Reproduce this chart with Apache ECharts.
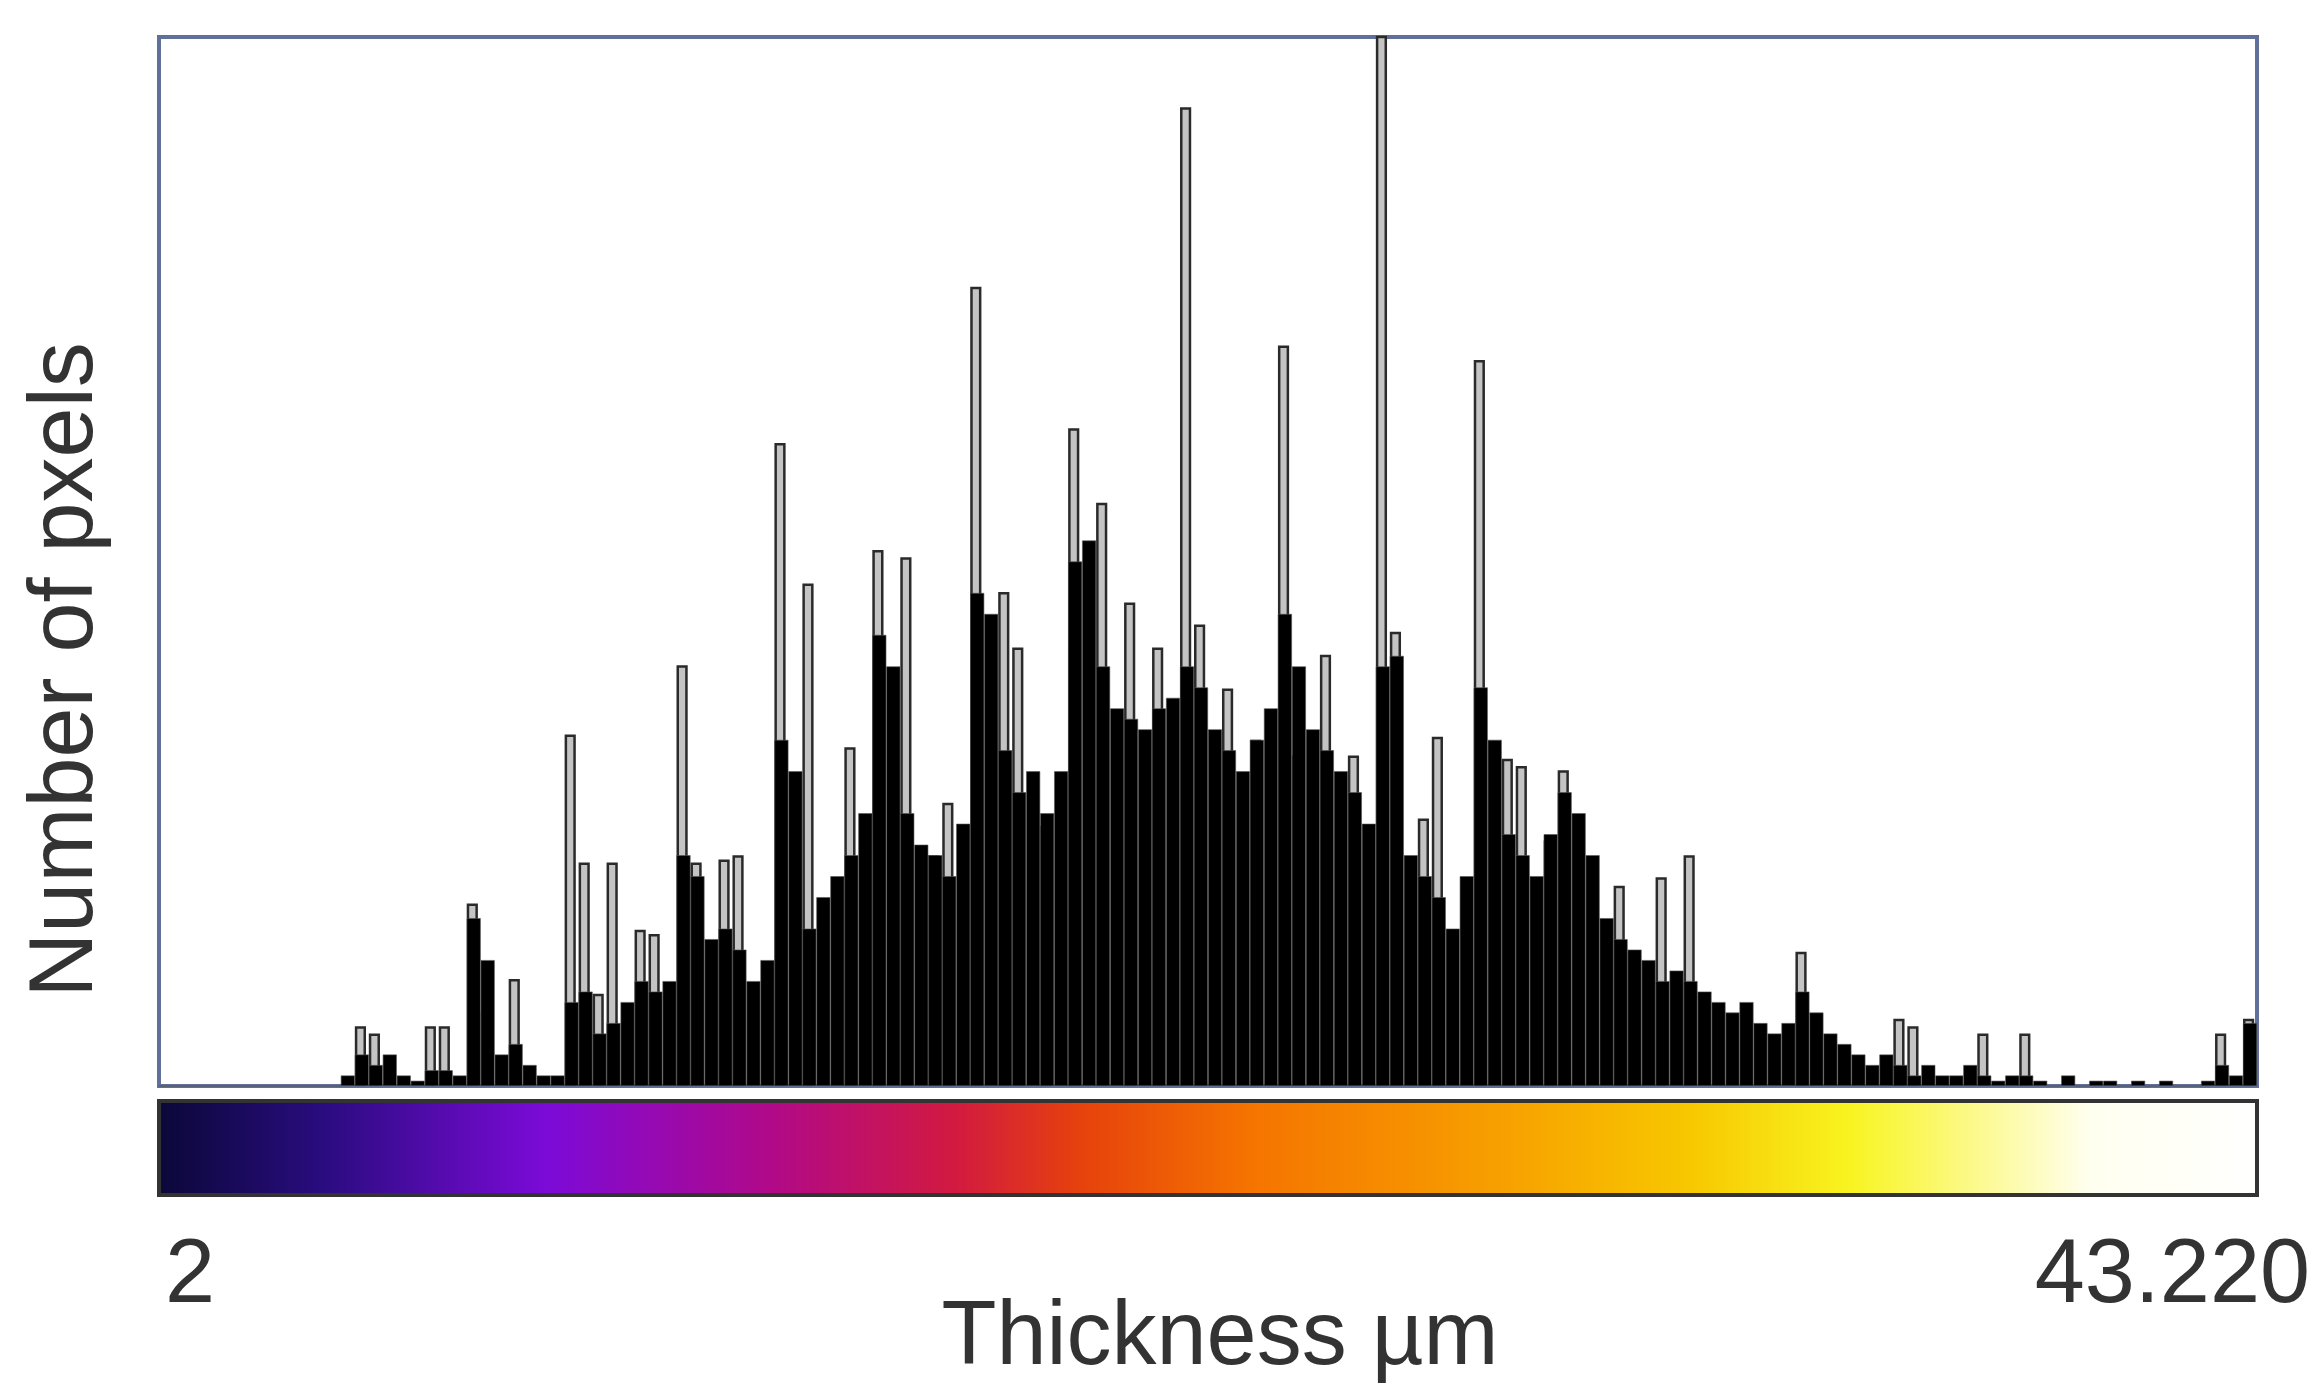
<!DOCTYPE html>
<html><head><meta charset="utf-8">
<script src="https://cdn.jsdelivr.net/npm/echarts@6/dist/echarts.min.js"></script>
<style>html,body{margin:0;padding:0;background:#fff}#c{width:2321px;height:1397px}</style>
</head><body><div id="c"></div>
<script>
// 150 thickness bins from 2 to 43.220 µm
const binCount = 150;
const categories = Array.from({length: binCount}, (_, i) => i);
// base histogram (% of plot height)
const baseValues = [
 0,0,0,0,0,0,0,0,0,0,0,0,0,1,
 3,2,3,1,0.5,
 1.5,1.5,1,
 16,12,
 3,4,2,1,1,
 8,9,5,6,8,10,9,10,
 22,20,
 14,15,13,10,12,
 33,30,
 15,18,20,22,26,
 43,40,
 26,23,22,20,25,
 47,45,
 32,28,30,26,30,
 50,52,
 40,36,35,34,36,37,
 40,38,
 34,32,30,33,36,
 45,40,
 34,32,30,28,25,
 40,41,
 22,20,18,15,20,
 38,33,
 24,22,20,24,28,26,22,
 16,14,13,12,10,11,10,9,
 8,7,8,6,5,6,9,7,5,4,3,
 2,3,2,1,2,1,1,2,
 1,0.5,1,1,0.5,0,1,0,0.5,0.5,0,0.5,0,0.5,0,0,0.5,2,1,6
];
// narrow spike bins: [bin, height]
const spikeBins = [14,15,19,20,22,23,25,29,30,31,32,34,35,37,38,40,41,44,46,49,51,53,55,56,58,60,61,63,65,67,69,71,73,74,76,78,80,81,83,85,87,88,90,91,94,96,97,99,100,104,105,107,109,117,124,125,130,133,147,149];
const spikeHeights = [5.7,5.0,5.7,5.7,17.4,7.1,10.2,33.5,21.3,8.8,21.3,14.9,14.5,40.1,21.3,21.6,22.0,61.3,47.9,32.3,51.1,50.4,22.0,27.0,76.2,47.1,41.8,24.8,62.7,55.6,46.1,41.8,93.3,44.0,37.9,33.0,70.6,31.5,41.1,31.5,110,43.3,25.5,33.3,69.2,31.2,30.5,23.4,30.1,19.1,12.8,19.9,22.0,12.8,6.4,5.7,5.0,5.0,5.0,6.4];
const xMinLabel = '2';
const xMaxLabel = '43.220';
const xTitle = 'Thickness µm';
const yTitle = 'Number of pxels';

const spikeData = categories.map(() => null);
spikeBins.forEach((b, i) => { spikeData[b] = spikeHeights[i]; });

const chart = echarts.init(document.getElementById('c'));
const txt = {fill: '#333', fontFamily: 'Liberation Sans, Arial, sans-serif', fontSize: 90};
chart.setOption({
  animation: false,
  grid: {left: 159, right: 64, top: 37, bottom: 311, show: true, borderColor: '#60709a', borderWidth: 4, backgroundColor: '#fff'},
  xAxis: {type: 'category', data: categories, axisLine: {show: false}, axisTick: {show: false}, axisLabel: {show: false}},
  yAxis: {type: 'value', min: 0, max: 100, axisLine: {show: false}, axisTick: {show: false}, axisLabel: {show: false}, splitLine: {show: false}},
  series: [
    {type: 'bar', data: spikeData, barWidth: '80%', barGap: '-100%', itemStyle: {color: '#c4c4c4', borderColor: '#2a2a2a', borderWidth: 2.5}},
    {type: 'bar', data: baseValues, barWidth: '100%', barGap: '-100%', itemStyle: {color: '#000', borderColor: '#555', borderWidth: 0.6}}
  ],
  graphic: [
    {type: 'rect', shape: {x: 159, y: 1101, width: 2098, height: 94},
     style: {stroke: '#333', lineWidth: 4, fill: new echarts.graphic.LinearGradient(0, 0, 1, 0, [
       {offset: 0, color: '#0a0838'}, {offset: 0.08, color: '#2a0c80'}, {offset: 0.185, color: '#7c0ad8'},
       {offset: 0.29, color: '#b0098a'}, {offset: 0.38, color: '#d21a40'}, {offset: 0.44, color: '#e6420c'},
       {offset: 0.52, color: '#f57400'}, {offset: 0.64, color: '#f7a000'}, {offset: 0.73, color: '#f7c800'},
       {offset: 0.805, color: '#f8f420'}, {offset: 0.92, color: '#fffff0'}, {offset: 1, color: '#ffffff'}])}},
    {type: 'text', x: 165, y: 1277, style: Object.assign({text: xMinLabel, verticalAlign: 'middle'}, txt)},
    {type: 'text', x: 2310, y: 1277, style: Object.assign({text: xMaxLabel, align: 'right', verticalAlign: 'middle'}, txt)},
    {type: 'text', x: 1220, y: 1339, style: Object.assign({text: xTitle, align: 'center', verticalAlign: 'middle'}, txt)},
    {type: 'text', x: 67, y: 670, rotation: Math.PI / 2, style: Object.assign({text: yTitle, align: 'center', verticalAlign: 'middle'}, txt)}
  ]
});
</script></body></html>
